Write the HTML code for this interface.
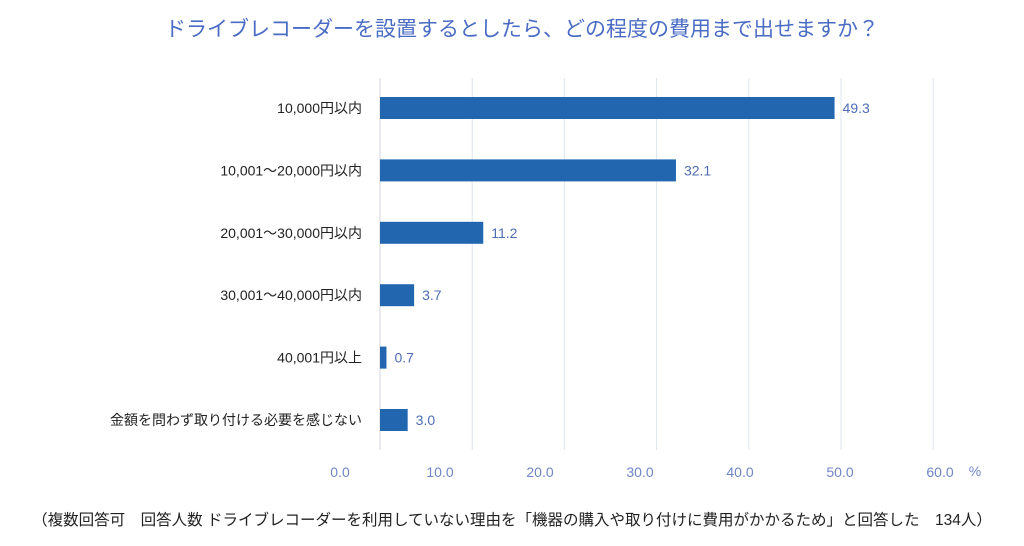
<!DOCTYPE html>
<html><head><meta charset="utf-8"><style>
body{margin:0;background:#fff;width:1024px;height:541px;overflow:hidden;font-family:"Liberation Sans","Noto Sans CJK JP",sans-serif;}
</style></head><body>
<svg id="chart" width="1024" height="541" style="font-family:'Liberation Sans','Noto Sans CJK JP',sans-serif">
<text x="522" y="36" text-anchor="middle" font-size="21" fill="#4a6cc4">ドライブレコーダーを設置するとしたら、どの程度の費用まで出せますか？</text>
<g id="grid"></g><g id="bars"></g><g id="cats"></g><g id="vals"></g><g id="ticks"></g>
<text x="975" y="476" text-anchor="middle" font-size="14" fill="#6f86c8">%</text>
<text x="512" y="525" text-anchor="middle" font-size="15.5" fill="#222">（複数回答可　回答人数 ドライブレコーダーを利用していない理由を「機器の購入や取り付けに費用がかかるため」と回答した　134人）</text>
</svg>
<script>
const categories=["10,000円以内","10,001～20,000円以内","20,001～30,000円以内","30,001～40,000円以内","40,001円以上","金額を問わず取り付ける必要を感じない"];
const values=[49.3,32.1,11.2,3.7,0.7,3.0];
const tickValues=[0,10,20,30,40,50,60];
const tickLabels=["0.0","10.0","20.0","30.0","40.0","50.0","60.0"];
const NS="http://www.w3.org/2000/svg";
const x0=380,pxPerUnit=9.22,y0=108,step=62.4,barH=22;
const xs=v=>x0+v*pxPerUnit;
const ys=i=>y0+i*step;
function mk(tag,attrs,parent,text){const e=document.createElementNS(NS,tag);for(const k in attrs)e.setAttribute(k,attrs[k]);if(text!==undefined)e.textContent=text;document.getElementById(parent).appendChild(e);return e;}
tickValues.forEach((t,i)=>{
  const g=mk('line',{x1:xs(t),x2:xs(t),y1:78,y2:450,stroke:t===0?'#d0d6de':'#dfe5ee','stroke-width':1},'grid');
  
  
  const l=mk('text',{x:340+i*100,y:477,'text-anchor':'middle','font-size':14,fill:'#6f86c8'},'ticks',tickLabels[i]);
  
  
});
categories.forEach((c,i)=>{
  const b=mk('rect',{x:x0,y:ys(i)-barH/2,width:xs(values[i])-x0,height:barH,fill:'#2366b0'},'bars');
  
  
  const t=mk('text',{x:362,y:ys(i)+5,'text-anchor':'end','font-size':14,fill:'#222'},'cats',c);
  
  
  const v=mk('text',{x:xs(values[i])+8,y:ys(i)+5,'font-size':14,fill:'#4f6db5'},'vals',values[i].toFixed(1));
  
  
});
</script>
</body></html>
